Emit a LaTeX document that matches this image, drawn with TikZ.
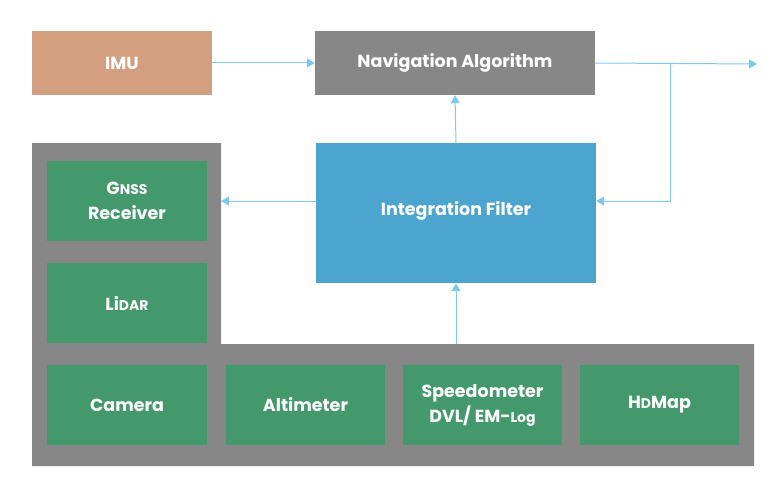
\documentclass[tikz,border=0pt]{standalone}
\usepackage{fontspec}
\setmainfont{Poppins}
\usetikzlibrary{arrows.meta}
\definecolor{imuc}{HTML}{D49E80}
\definecolor{grayc}{HTML}{878787}
\definecolor{ifc}{HTML}{4CA5CE}
\definecolor{greenc}{HTML}{43996B}
\definecolor{arrc}{HTML}{7CC9EF}
\newcommand{\smc}[1]{{\fontsize{14}{17}\selectfont #1}}
\tikzset{
  box/.style={draw=none, inner sep=0pt, text=white, align=center, font=\fontsize{17.5}{25}\selectfont\bfseries},
  conn/.style={draw=arrc, line width=1pt, -{Triangle[length=8pt,width=9pt]}}
}
\begin{document}
\begin{tikzpicture}[x=1pt,y=-1pt]
\useasboundingbox (0,0) rectangle (772,495);
% gray L-panel
\path[fill=grayc] (32,143) -- (221,143) -- (221,344) -- (754,344) -- (754,466) -- (32,466) -- cycle;
\coordinate (paneltop) at (456,344);
\coordinate (panelright) at (221,201);
% top boxes
\node[box, fill=imuc, minimum width=180pt, minimum height=64pt] (imu) at (122,63) {IMU};
\node[box, fill=grayc, minimum width=280pt, minimum height=64pt] (nav) at (455,63) {Navigation Algorithm};
\node[box, fill=ifc, minimum width=280pt, minimum height=140pt] (ifl) at (456,213) {};
\node[box] (iflabel) at (456,211) {Integration Filter};
% green boxes
\node[box, fill=greenc, minimum width=160pt, minimum height=80pt] (gnss) at (127,201) {G\smc{NSS}\\Receiver};
\node[box, fill=greenc, minimum width=160pt, minimum height=80pt] (lidar) at (127,303) {Li\smc{DAR}};
\node[box, fill=greenc, minimum width=160pt, minimum height=80pt] (camera) at (127,405) {Camera};
\node[box, fill=greenc, minimum width=159pt, minimum height=80pt] (alti) at (305.5,405) {Altimeter};
\node[box, fill=greenc, minimum width=159pt, minimum height=80pt] (speed) at (482.5,405) {Speedometer\\DVL/ EM-\smc{Log}};
\node[box, fill=greenc, minimum width=159pt, minimum height=80pt] (hd) at (659.5,405) {H\smc{D}Map};
% connectors
\coordinate (outend) at (757,64);
\coordinate (branch) at (670,64);
\coordinate (branchlow) at (670,201);
\draw[conn] (imu.east) -- (nav.west);
\draw[conn] (nav.east) -- (outend);
\draw[conn] (branch) -- (branchlow) -- (ifl.east |- branchlow);
\draw[conn] (ifl.north) -- (nav.south);
\draw[conn] (ifl.west |- panelright) -- (panelright);
\draw[conn] (paneltop) -- (ifl.south);
\end{tikzpicture}
\end{document}
